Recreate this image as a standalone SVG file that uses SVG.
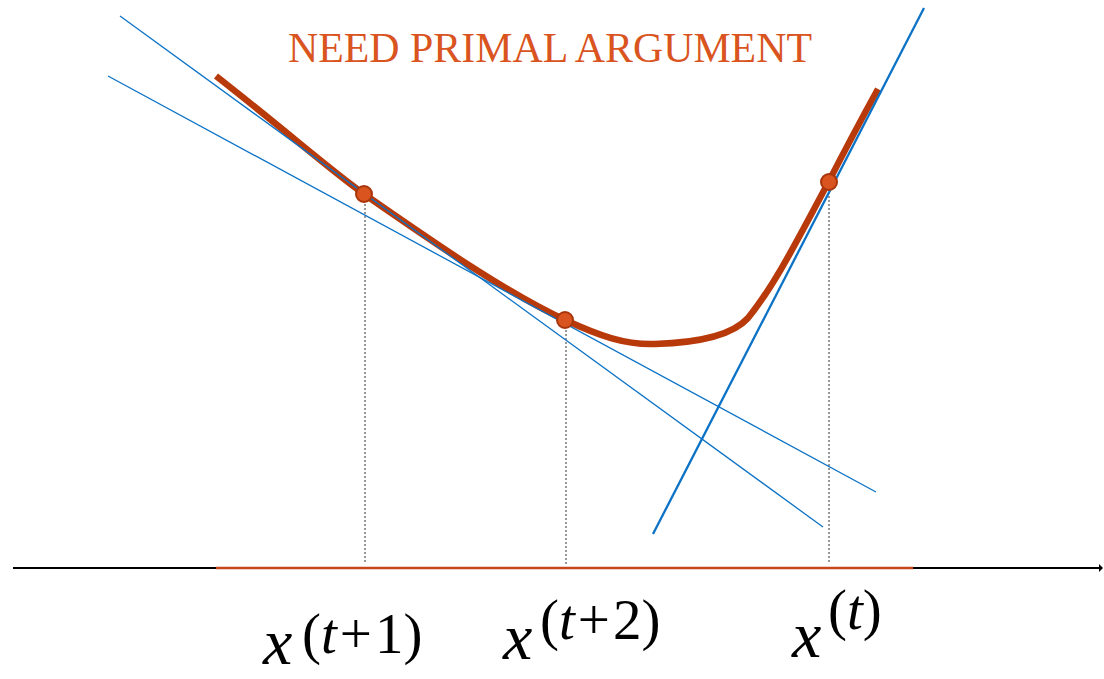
<svg xmlns="http://www.w3.org/2000/svg" width="1104" height="679" viewBox="0 0 1104 679">
<style>
.tan{stroke:#0B72C6;fill:none}
.drop{stroke:#333;stroke-width:1;stroke-dasharray:2 2;fill:none}
.pt{fill:#D9541E;stroke:#A8360A;stroke-width:2}
.math{font-family:"Liberation Serif",serif;font-style:italic;fill:#000;font-size:66px}
.sup{font-family:"Liberation Serif",serif;fill:#000;font-size:57px}
</style>
<defs>
<marker id="arr" markerWidth="4" markerHeight="8" refX="3" refY="4" orient="auto" markerUnits="userSpaceOnUse">
<path d="M0,0 L4,4 L0,8 Z" fill="#000"/>
</marker>
</defs>
<rect width="1104" height="679" fill="#fff"/>
<g id="connectors">
<line x1="13" y1="568" x2="1102" y2="568" stroke="#000" stroke-width="2" marker-end="url(#arr)"/>
<line x1="216" y1="568" x2="913" y2="568" stroke="#C8461A" stroke-width="2.5"/>
<line class="drop" x1="365" y1="196" x2="365" y2="562"/>
<line class="drop" x1="566" y1="322" x2="566" y2="565"/>
<line class="drop" x1="829" y1="184" x2="829" y2="562"/>
<path d="M216,76 C290,134 330,170 364,194 C430,240 505,292 565,320 C600,336 625,345 655,344 C690,343 730,338 748,318 C775,285 800,235 828,183 C845,150 862,118 878,89" fill="none" stroke="#B83A0B" stroke-width="6.5"/>
<line class="tan" x1="120" y1="16" x2="823" y2="527" stroke-width="1.3"/>
<line class="tan" x1="108" y1="76" x2="876" y2="492" stroke-width="1.3"/>
<line class="tan" x1="653" y1="534" x2="924" y2="8" stroke-width="2.3"/>
</g>
<g id="title"><text x="288" y="62" font-family="Liberation Serif,serif" font-size="43" fill="#D9541E" textLength="524" lengthAdjust="spacingAndGlyphs">NEED PRIMAL ARGUMENT</text></g>
<g id="p1"><circle class="pt" cx="364" cy="194" r="8"/></g>
<g id="p2"><circle class="pt" cx="565" cy="320" r="8"/></g>
<g id="p3"><circle class="pt" cx="829" cy="182" r="8"/></g>
<g id="label1"><text class="math" x="263" y="664">x</text><text class="sup" x="302" y="653"><tspan>(</tspan><tspan font-style="italic">t</tspan><tspan dx="3">+</tspan><tspan dx="3">1)</tspan></text></g>
<g id="label2"><text class="math" x="503" y="659">x</text><text class="sup" x="540" y="639"><tspan>(</tspan><tspan font-style="italic">t</tspan><tspan dx="3">+</tspan><tspan dx="3">2)</tspan></text></g>
<g id="label3"><text class="math" x="792" y="657">x</text><text class="sup" x="828" y="629"><tspan>(</tspan><tspan font-style="italic">t</tspan><tspan>)</tspan></text></g>
</svg>
